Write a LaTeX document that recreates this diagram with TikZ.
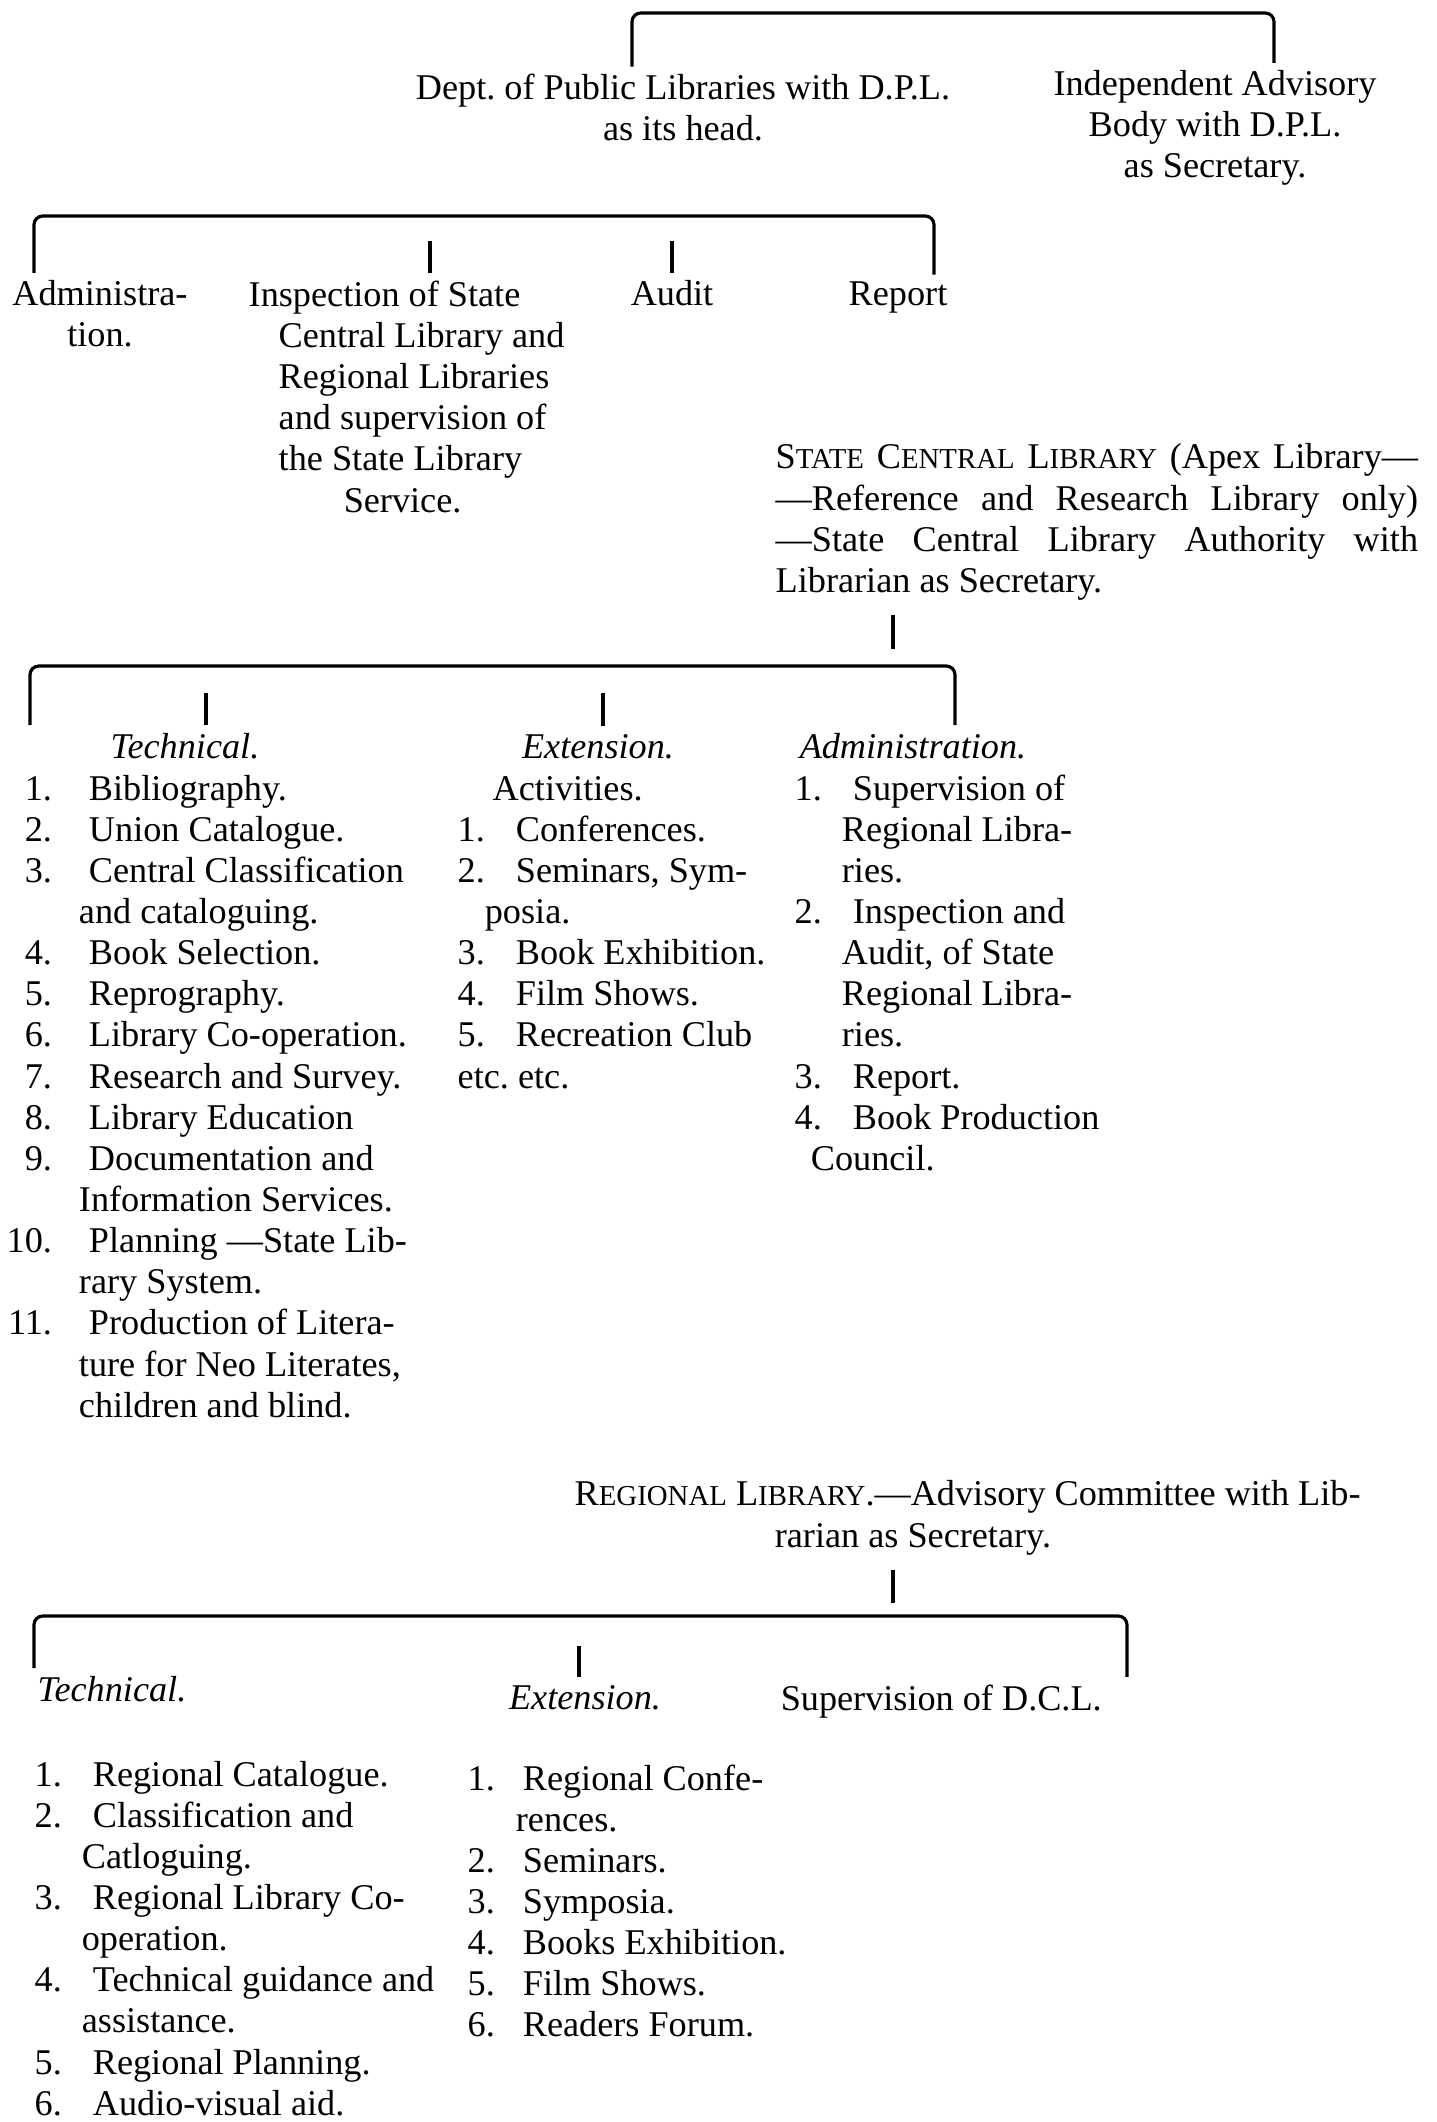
\documentclass[tikz,border=0pt]{standalone}
\usepackage{fontspec}
\setmainfont{Liberation Serif}
\newcommand{\smcap}[1]{{\fontsize{8.2}{9}\selectfont #1}}
\tikzset{
	txt/.style={inner sep=0pt, font=\fontsize{10.3}{11.7}\selectfont},
	head/.style={txt, inner sep=2pt},
	lnk/.style={line width=0.9pt, rounded corners=2.5pt},
}
\begin{document}
\frenchspacing
\begin{tikzpicture}[x=0.01cm, y=-0.01cm]
	\useasboundingbox (0,0) rectangle (1437,2122);

	\node[head, align=center, anchor=base] (dept) at (683,141) {Dept. of Public Libraries with D.P.L.\\as its head.};
	\node[head, align=center, anchor=base] (adv) at (1215,178) {Independent Advisory\\Body with D.P.L.\\as Secretary.};
	\coordinate (t1) at (632,13);
	\coordinate (t2) at (1274,13);
	\draw[lnk] (t1 |- dept.north) -- (t1) -- (t2) -- (t2 |- adv.north);

	\node[head, align=center, anchor=base] (adm) at (100,347) {Administra-\\tion.};
	\node[head, align=left, anchor=base west] (insp) at (271,512) {\hspace*{-0.3cm}Inspection of State\\Central Library and\\Regional Libraries\\and supervision of\\the State Library\\\hspace*{0.65cm}Service.};
	\node[head, anchor=base] (aud) at (672,306) {Audit};
	\node[head, anchor=base] (rep) at (898,306) {Report};
	\coordinate (s1) at (34,216);
	\coordinate (s2) at (934,216);
	\coordinate (s3) at (430,241);
	\coordinate (s4) at (672,241);
	\draw[lnk] (s1 |- adm.north) -- (s1) -- (s2) -- (s2 |- rep.north);
	\draw[lnk] (s3) -- (s3 |- insp.north);
	\draw[lnk] (s4) -- (aud.north);

	% state central library
	\node[txt, text width=6.42cm, align=justify, anchor=base west] (scl) at (775,469) {\noindent S\smcap{TATE} C\smcap{ENTRAL} L\smcap{IBRARY} (Apex Library---\linebreak ---Reference and Research Library only)\linebreak ---State Central Library Authority with\linebreak Librarian as Secretary.};
	\coordinate (u1) at (893,649);
	\draw[lnk, shorten <=4pt] (scl.south -| u1) -- (u1);

	\node[head, anchor=base] (thead) at (185,758) {\textit{Technical.}};
	\node[head, anchor=base] (ehead) at (598,758) {\textit{Extension.}};
	\node[head, anchor=base west] (ahead) at (792,758) {\textit{Administration.}};
	\coordinate (v1) at (30,666);
	\coordinate (v2) at (955,666);
	\coordinate (v3) at (206,693);
	\coordinate (v4) at (603,693);
	\draw[lnk] (v1 |- thead.north) -- (v1) -- (v2) -- (v2 |- ahead.north);
	\draw[lnk] (v3) -- (v3 |- thead.north);
	\draw[lnk] (v4) -- (v4 |- ehead.north);

	\node[txt, anchor=base west] (tlist) at (6,800) {\begin{tabular}[t]{@{}r@{\hspace{0.37cm}}l@{}}
		1. & Bibliography.\\
		2. & Union Catalogue.\\
		3. & Central Classification\\
		   & \hspace*{-0.1cm}and cataloguing.\\
		4. & Book Selection.\\
		5. & Reprography.\\
		6. & Library Co-operation.\\
		7. & Research and Survey.\\
		8. & Library Education\\
		9. & Documentation and\\
		   & \hspace*{-0.1cm}Information Services.\\
		10. & Planning ---State Lib-\\
		   & \hspace*{-0.1cm}rary System.\\
		11. & Production of Litera-\\
		   & \hspace*{-0.1cm}ture for Neo Literates,\\
		   & \hspace*{-0.1cm}children and blind.
	\end{tabular}};
	\node[txt, anchor=base west] (elist) at (457,800) {\begin{tabular}[t]{@{}r@{\hspace{0.31cm}}l@{}}
		\multicolumn{2}{@{\hspace{0.35cm}}l@{}}{Activities.}\\
		1. & Conferences.\\
		2. & Seminars, Sym-\\
		   & \hspace*{-0.31cm}posia.\\
		3. & Book Exhibition.\\
		4. & Film Shows.\\
		5. & Recreation Club\\
		\multicolumn{2}{@{}l@{}}{etc. etc.}
	\end{tabular}};
	\node[txt, anchor=base west] (alist) at (794,800) {\begin{tabular}[t]{@{}r@{\hspace{0.31cm}}l@{}}
		1. & Supervision of\\
		   & \hspace*{-0.11cm}Regional Libra-\\
		   & \hspace*{-0.11cm}ries.\\
		2. & Inspection and\\
		   & \hspace*{-0.11cm}Audit, of State\\
		   & \hspace*{-0.11cm}Regional Libra-\\
		   & \hspace*{-0.11cm}ries.\\
		3. & Report.\\
		4. & Book Production\\
		   & \hspace*{-0.42cm}Council.
	\end{tabular}};

	% regional library
	\node[txt, align=left, anchor=base west] (reg) at (574,1547) {R\smcap{EGIONAL} L\smcap{IBRARY}.---Advisory Committee with Lib-\\\hspace*{2cm}rarian as Secretary.};
	\coordinate (r1) at (893,1603);
	\draw[lnk, shorten <=4pt] (reg.south -| r1) -- (r1);

	\node[head, anchor=base west] (rtech) at (30,1701) {\textit{Technical.}};
	\node[head, anchor=base] (rext) at (585,1709) {\textit{Extension.}};
	\node[head, anchor=base west] (sup) at (773,1710) {Supervision of D.C.L.};
	\coordinate (w1) at (34,1616);
	\coordinate (w2) at (1127,1616);
	\coordinate (w3) at (579,1646);
	\draw[lnk] (w1 |- rtech.north) -- (w1) -- (w2) -- (w2 |- sup.north);
	\draw[lnk] (w3) -- (w3 |- rext.north);

	\node[txt, anchor=base west] (rtlist) at (34,1786) {\begin{tabular}[t]{@{}r@{\hspace{0.31cm}}l@{}}
		1. & Regional Catalogue.\\
		2. & Classification and\\
		   & \hspace*{-0.11cm}Catloguing.\\
		3. & Regional Library Co-\\
		   & \hspace*{-0.11cm}operation.\\
		4. & Technical guidance and\\
		   & \hspace*{-0.11cm}assistance.\\
		5. & Regional Planning.\\
		6. & Audio-visual aid.
	\end{tabular}};
	\node[txt, anchor=base west] (relist) at (467,1790) {\begin{tabular}[t]{@{}r@{\hspace{0.28cm}}l@{}}
		1. & Regional Confe-\\
		   & \hspace*{-0.07cm}rences.\\
		2. & Seminars.\\
		3. & Symposia.\\
		4. & Books Exhibition.\\
		5. & Film Shows.\\
		6. & Readers Forum.
	\end{tabular}};
\end{tikzpicture}
\end{document}
